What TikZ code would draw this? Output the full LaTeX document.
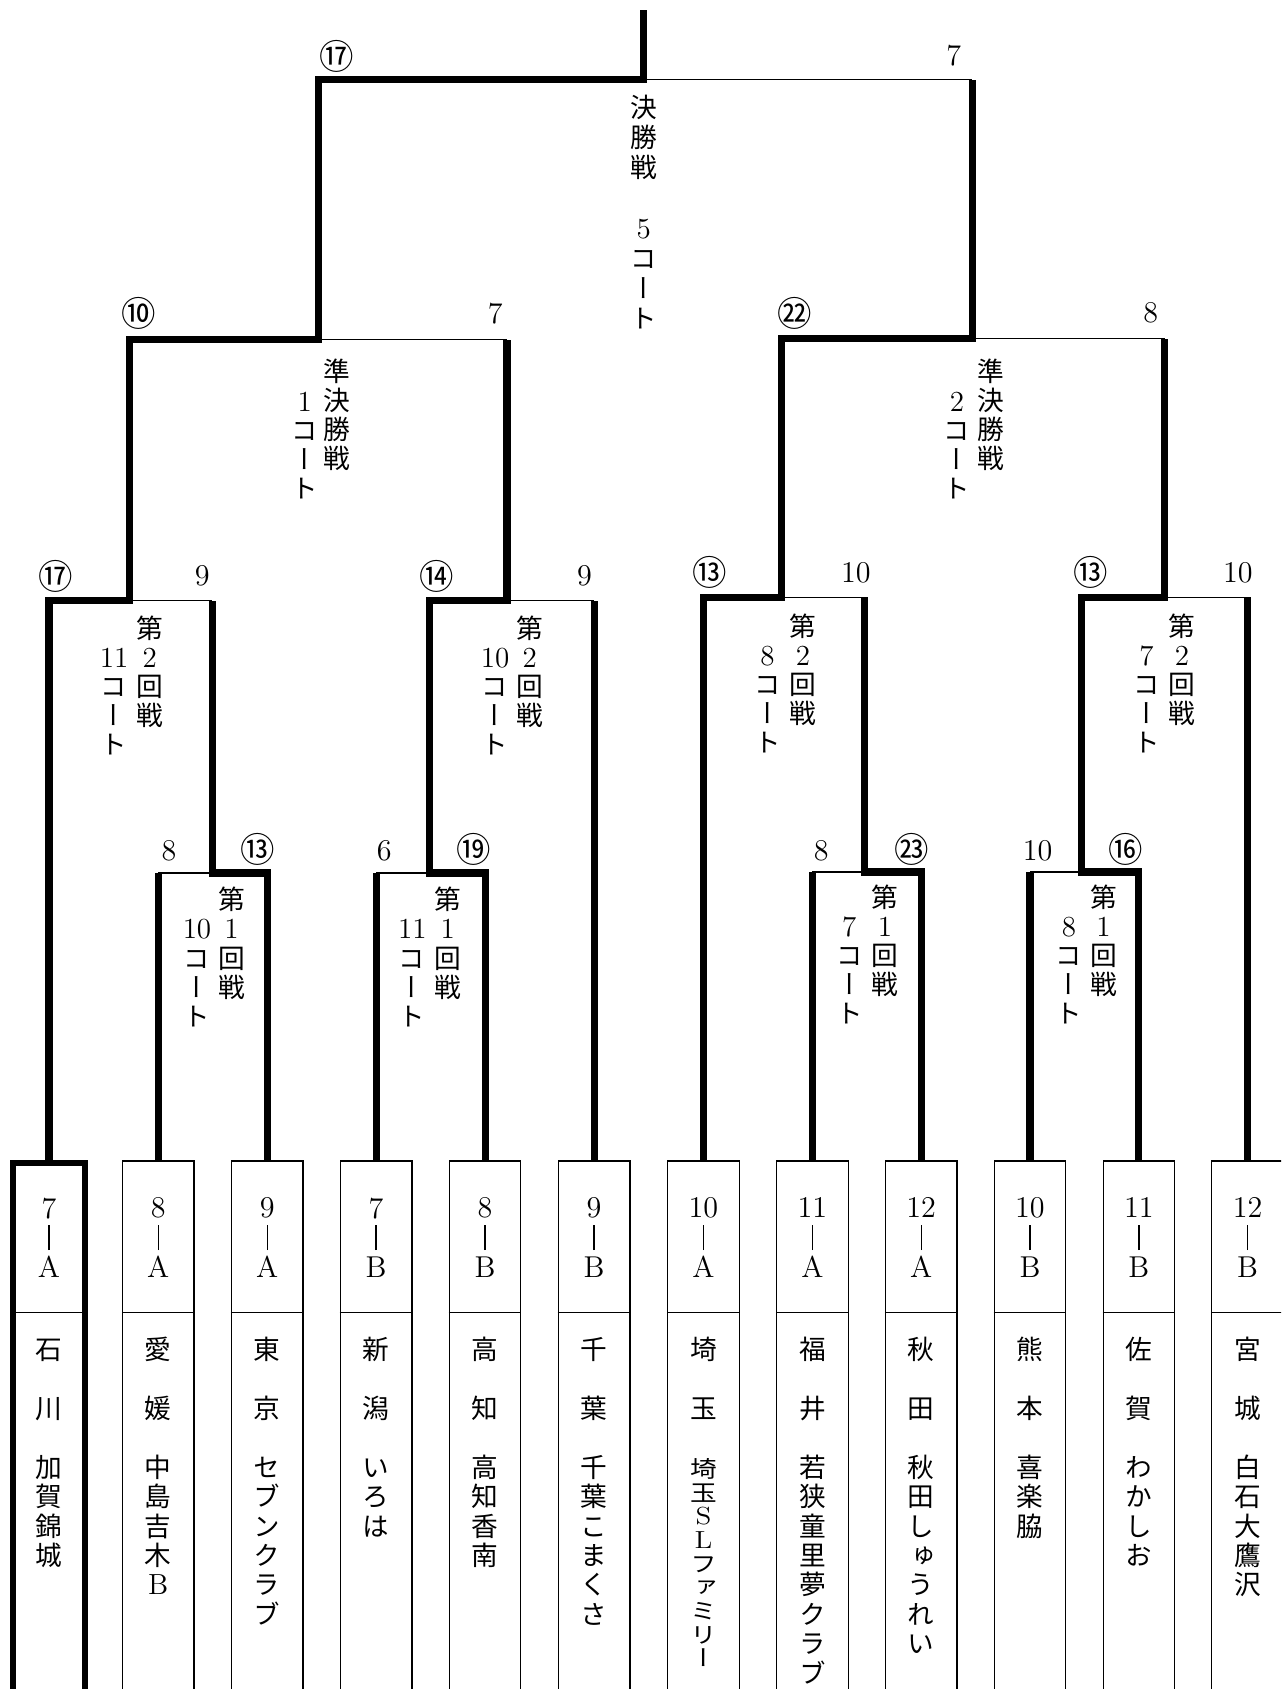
\documentclass[tikz,border=0pt]{standalone}
\usepackage{fontspec}
\usepackage{graphicx}
\newfontfamily\jp{Noto Sans CJK JP}[RawFeature=+vert]
\newfontfamily\jpc{Noto Sans CJK JP}
\newcommand\dg[1]{{\rmfamily\fontsize{13.5}{13.5}\selectfont #1}}
\newcommand\jst{\rule[-0.12em]{0pt}{1em}}
\newcommand\vbar{\rule[-1.2pt]{0.6pt}{11.5pt}}
\newcommand\sq[1]{\scalebox{1}[0.85]{#1}}
\newcommand\pf[2]{\jst #1\\\jst\\\jst #2\\\jst\\}
\begin{document}
\begin{tikzpicture}[x=0.5pt,y=-0.5pt,
  thk/.style={line width=3.3pt, line join=miter},
  thn/.style={line width=0.6pt},
  tbox/.style={draw, line width=0.55pt, minimum width=33.25pt, minimum height=262pt, anchor=north, inner sep=0pt},
  wbox/.style={tbox, line width=2.8pt},
  vcol/.style={font={\jp\fontsize{12.4}{13.5}\selectfont}, align=center, inner sep=0pt, anchor=north},
  fincol/.style={vcol, font={\jp\fontsize{12.4}{14}\selectfont}},
  namecol/.style={vcol, font={\jp\fontsize{12.4}{13.65}\selectfont}},
  codecol/.style={font={\rmfamily\fontsize{14}{13.75}\selectfont}, align=center, inner sep=0pt},
  numlbl/.style={font={\rmfamily\fontsize{14}{14}\selectfont}, inner sep=0pt},
  cirlbl/.style={font={\jpc\fontsize{16}{16}\selectfont}, inner sep=0pt}]
\useasboundingbox (0,0) rectangle (1190,1569);
\clip (0,0) rectangle (1190,1569);

% team boxes
\node[wbox] (b1) at (45.5,1078) {};
\node[tbox] (b2) at (147,1078) {};
\node[tbox] (b3) at (248.3,1078) {};
\node[tbox] (b4) at (349.4,1078) {};
\node[tbox] (b5) at (450.6,1078) {};
\node[tbox] (b6) at (551.9,1078) {};
\node[tbox] (b7) at (653.5,1078) {};
\node[tbox] (b8) at (754.7,1078) {};
\node[tbox] (b9) at (855.7,1078) {};
\node[tbox] (b10) at (956.8,1078) {};
\node[tbox] (b11) at (1058,1078) {};
\node[tbox] (b12) at (1159,1078) {};
\coordinate (divy) at (0,1219);
\foreach \b in {b1,b2,b3,b4,b5,b6,b7,b8,b9,b10,b11,b12}
  \draw[thn] (\b.west |- divy) -- (\b.east |- divy);

% codes
\node[codecol] (c1) at (45.5,1149.5) {7\\\vbar\\A};
\node[codecol] (c2) at (147,1149.5) {8\\\vbar\\A};
\node[codecol] (c3) at (248.3,1149.5) {9\\\vbar\\A};
\node[codecol] (c4) at (349.4,1149.5) {7\\\vbar\\B};
\node[codecol] (c5) at (450.6,1149.5) {8\\\vbar\\B};
\node[codecol] (c6) at (551.9,1149.5) {9\\\vbar\\B};
\node[codecol] (c7) at (653.5,1149.5) {10\\\vbar\\A};
\node[codecol] (c8) at (754.7,1149.5) {11\\\vbar\\A};
\node[codecol] (c9) at (855.7,1149.5) {12\\\vbar\\A};
\node[codecol] (c10) at (956.8,1149.5) {10\\\vbar\\B};
\node[codecol] (c11) at (1058,1149.5) {11\\\vbar\\B};
\node[codecol] (c12) at (1159,1149.5) {12\\\vbar\\B};

% names
\node[namecol] (n1) at (45.5,1241) {\pf{石}{川}\jst 加\\\jst 賀\\\jst 錦\\\jst 城};
\node[namecol] (n2) at (147,1241) {\pf{愛}{媛}\jst 中\\\jst 島\\\jst 吉\\\jst 木\\\jst\dg{B}};
\node[namecol] (n3) at (248.3,1241) {\pf{東}{京}\jst セ\\\jst ブ\\\jst ン\\\jst ク\\\jst ラ\\\jst ブ};
\node[namecol] (n4) at (349.4,1241) {\pf{新}{潟}\jst い\\\jst ろ\\\jst は};
\node[namecol] (n5) at (450.6,1241) {\pf{高}{知}\jst 高\\\jst 知\\\jst 香\\\jst 南};
\node[namecol] (n6) at (551.9,1241) {\pf{千}{葉}\jst 千\\\jst 葉\\\jst こ\\\jst ま\\\jst く\\\jst さ};
\node[namecol] (n7) at (653.5,1241) {\pf{埼}{玉}\jst\sq{埼}\\[-2.65pt]\jst\sq{玉}\\[-2.65pt]\jst\sq{\dg{S}}\\[-2.65pt]\jst\sq{\dg{L}}\\[-2.65pt]\jst\sq{フ}\\[-2.65pt]\jst\sq{ァ}\\[-2.65pt]\jst\sq{ミ}\\[-2.65pt]\jst\sq{リ}\\[-2.65pt]\jst\sq{ー}};
\node[namecol] (n8) at (754.7,1241) {\pf{福}{井}\jst 若\\\jst 狭\\\jst 童\\\jst 里\\\jst 夢\\\jst ク\\\jst ラ\\\jst ブ};
\node[namecol] (n9) at (855.7,1241) {\pf{秋}{田}\jst 秋\\\jst 田\\\jst し\\\jst ゅ\\\jst う\\\jst れ\\\jst い};
\node[namecol] (n10) at (956.8,1241) {\pf{熊}{本}\jst 喜\\\jst 楽\\\jst 脇};
\node[namecol] (n11) at (1058,1241) {\pf{佐}{賀}\jst わ\\\jst か\\\jst し\\\jst お};
\node[namecol] (n12) at (1159,1241) {\pf{宮}{城}\jst 白\\\jst 石\\\jst 大\\\jst 鷹\\\jst 沢};

% junctions
\coordinate (top) at (598,9);
\coordinate (jF) at (598,74);
\coordinate (jS1) at (295.5,315.5);
\coordinate (jS2) at (903,314.5);
\coordinate (j2a) at (120,558);
\coordinate (j2b) at (471,558);
\coordinate (j2c) at (726,555);
\coordinate (j2d) at (1082,555);
\coordinate (j1a) at (197,811);
\coordinate (j1b) at (399,811);
\coordinate (j1c) at (803,810);
\coordinate (j1d) at (1005,810);

% thin (losing) lines
\draw[thn] (jF) -- (jS2 |- jF);
\draw[thn] (jS1) -- (j2b |- jS1);
\draw[thn] (jS2) -- (j2d |- jS2);
\draw[thn] (j2a) -- (j1a |- j2a);
\draw[thn] (j2b) -- (b6.north |- j2b);
\draw[thn] (j2c) -- (j1c |- j2c);
\draw[thn] (j2d) -- (b12.north |- j2d);
\draw[thn] (j1a) -- (b2.north |- j1a);
\draw[thn] (j1b) -- (b4.north |- j1b);
\draw[thn] (j1c) -- (b8.north |- j1c);
\draw[thn] (j1d) -- (b10.north |- j1d);

% thick (winning) paths
\draw[thk] (b1.north) |- (j2a) |- (jS1) |- (jF) -- (top);
\draw[thk] (b3.north) |- (j1a) -- (j1a |- j2a);
\draw[thk] (b5.north) |- (j1b) |- (j2b) -- (j2b |- jS1);
\draw[thk] (b7.north) |- (j2c) |- (jS2) -- (jS2 |- jF);
\draw[thk] (b9.north) |- (j1c) -- (j1c |- j2c);
\draw[thk] (b11.north) |- (j1d) |- (j2d) -- (j2d |- jS2);
\draw[thk] (b2.north) -- (b2.north |- j1a);
\draw[thk] (b4.north) -- (b4.north |- j1b);
\draw[thk] (b6.north) -- (b6.north |- j2b);
\draw[thk] (b8.north) -- (b8.north |- j1c);
\draw[thk] (b10.north) -- (b10.north |- j1d);
\draw[thk] (b12.north) -- (b12.north |- j2d);

% round texts
\node[fincol] (tF) at (598,87) {\jst 決\\\jst 勝\\\jst 戦\\\jst\\\jst\dg{5}\\\jst コ\\\jst ー\\\jst ト};
\node[vcol] (tS1r) at (313,332) {\jst 準\\\jst 決\\\jst 勝\\\jst 戦};
\node[vcol] (tS1l) at (283,360) {\jst\dg{1}\\\jst コ\\\jst ー\\\jst ト};
\node[vcol] (tS2r) at (920,332) {\jst 準\\\jst 決\\\jst 勝\\\jst 戦};
\node[vcol] (tS2l) at (889,360) {\jst\dg{2}\\\jst コ\\\jst ー\\\jst ト};
\node[vcol] (t2ar) at (139,571) {\jst 第\\\jst\dg{2}\\\jst 回\\\jst 戦};
\node[vcol] (t2al) at (106,598) {\jst\dg{11}\\\jst コ\\\jst ー\\\jst ト};
\node[vcol] (t2br) at (492,571) {\jst 第\\\jst\dg{2}\\\jst 回\\\jst 戦};
\node[vcol] (t2bl) at (460,598) {\jst\dg{10}\\\jst コ\\\jst ー\\\jst ト};
\node[vcol] (t2cr) at (746,569) {\jst 第\\\jst\dg{2}\\\jst 回\\\jst 戦};
\node[vcol] (t2cl) at (713,596) {\jst\dg{8}\\\jst コ\\\jst ー\\\jst ト};
\node[vcol] (t2dr) at (1098,569) {\jst 第\\\jst\dg{2}\\\jst 回\\\jst 戦};
\node[vcol] (t2dl) at (1065,596) {\jst\dg{7}\\\jst コ\\\jst ー\\\jst ト};
\node[vcol] (t1ar) at (215,823) {\jst 第\\\jst\dg{1}\\\jst 回\\\jst 戦};
\node[vcol] (t1al) at (183,850) {\jst\dg{10}\\\jst コ\\\jst ー\\\jst ト};
\node[vcol] (t1br) at (416,823) {\jst 第\\\jst\dg{1}\\\jst 回\\\jst 戦};
\node[vcol] (t1bl) at (383,850) {\jst\dg{11}\\\jst コ\\\jst ー\\\jst ト};
\node[vcol] (t1cr) at (822,821) {\jst 第\\\jst\dg{1}\\\jst 回\\\jst 戦};
\node[vcol] (t1cl) at (789,848) {\jst\dg{7}\\\jst コ\\\jst ー\\\jst ト};
\node[vcol] (t1dr) at (1025,821) {\jst 第\\\jst\dg{1}\\\jst 回\\\jst 戦};
\node[vcol] (t1dl) at (993,848) {\jst\dg{8}\\\jst コ\\\jst ー\\\jst ト};

% score labels
\node[cirlbl] (lF1) at (313,52) {⑰};
\node[numlbl] (lF2) at (886,52) {7};
\node[cirlbl] (lS1a) at (129,291) {⑩};
\node[numlbl] (lS1b) at (460,291) {7};
\node[cirlbl] (lS2a) at (738,291) {㉒};
\node[numlbl] (lS2b) at (1069,291) {8};
\node[cirlbl] (l2a1) at (52,535) {⑰};
\node[numlbl] (l2a2) at (188,535) {9};
\node[cirlbl] (l2b1) at (406,535) {⑭};
\node[numlbl] (l2b2) at (543,535) {9};
\node[cirlbl] (l2c1) at (659,532) {⑬};
\node[numlbl] (l2c2) at (795,532) {10};
\node[cirlbl] (l2d1) at (1013,532) {⑬};
\node[numlbl] (l2d2) at (1150,532) {10};
\node[numlbl] (l1a1) at (157,790) {8};
\node[cirlbl] (l1a2) at (239,789) {⑬};
\node[numlbl] (l1b1) at (357,790) {6};
\node[cirlbl] (l1b2) at (440,789) {⑲};
\node[numlbl] (l1c1) at (763,790) {8};
\node[cirlbl] (l1c2) at (847,789) {㉓};
\node[numlbl] (l1d1) at (964,790) {10};
\node[cirlbl] (l1d2) at (1046,789) {⑯};
\end{tikzpicture}
\end{document}
